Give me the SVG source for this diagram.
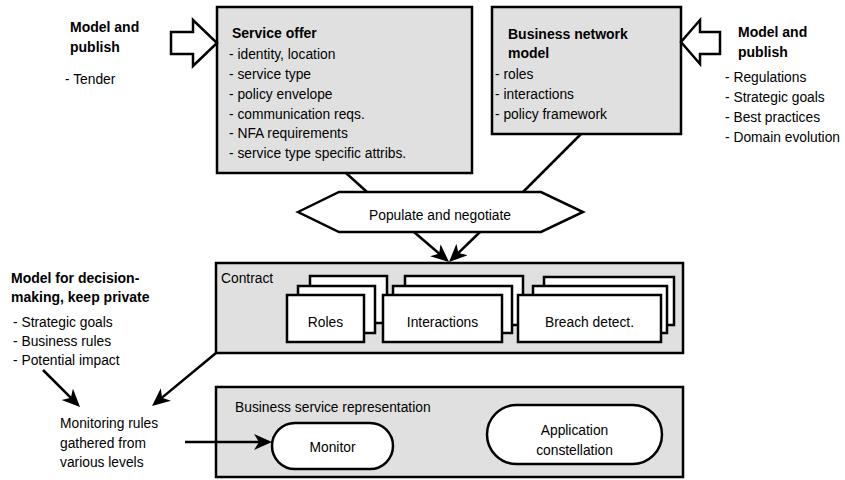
<svg xmlns="http://www.w3.org/2000/svg" width="845" height="480" viewBox="0 0 845 480">
<defs>
<style>
.g{fill:#e0e0e0;stroke:#000;stroke-width:2.5}
.w{fill:#fff;stroke:#000;stroke-width:2.5}
.ln{fill:none;stroke:#000;stroke-width:2.5}
.ar{fill:none;stroke:#000;stroke-width:2.5;marker-end:url(#ah)}
text{font-family:"Liberation Sans",Arial,Helvetica,sans-serif;font-size:13.8px;fill:#000}
.b{font-weight:bold;font-size:14px}
.c{text-anchor:middle}
</style>
<marker id="ah" markerUnits="userSpaceOnUse" markerWidth="20" markerHeight="18" refX="14" refY="8" orient="auto">
<path d="M0,0 L18,8 L0,16 L5,8 z" fill="#000"/>
</marker>
</defs>
<rect width="845" height="480" fill="#fff"/>

<g id="model-publish-left">
<text class="b" x="70" y="32">Model and</text>
<text class="b" x="70" y="52">publish</text>
<text x="65" y="84">- Tender</text>
</g>

<g id="service-offer">
<rect class="g" x="217" y="7" width="255" height="166"/>
<text class="b" x="232" y="38">Service offer</text>
<text x="229" y="59">- identity, location</text>
<text x="229" y="79">- service type</text>
<text x="229" y="99">- policy envelope</text>
<text x="229" y="119">- communication reqs.</text>
<text x="229" y="138">- NFA requirements</text>
<text x="229" y="158">- service type specific attribs.</text>
</g>

<g id="business-network-model">
<rect class="g" x="492" y="7" width="189" height="127"/>
<text class="b" x="508" y="39">Business network</text>
<text class="b" x="508" y="58">model</text>
<text x="495" y="79">- roles</text>
<text x="495" y="99">- interactions</text>
<text x="495" y="119">- policy framework</text>
</g>

<g id="model-publish-right">
<text class="b" x="738" y="37">Model and</text>
<text class="b" x="738" y="57">publish</text>
<text x="725" y="82">- Regulations</text>
<text x="725" y="102">- Strategic goals</text>
<text x="725" y="122">- Best practices</text>
<text x="725" y="142">- Domain evolution</text>
</g>

<g id="populate-negotiate">
<polygon class="w" points="298,212 339,192 541,192 583,212 541,232 339,232"/>
<text class="c" x="440" y="220">Populate and negotiate</text>
</g>

<g id="decision-making">
<text class="b" x="11" y="283">Model for decision-</text>
<text class="b" x="11" y="302">making, keep private</text>
<text x="13" y="327">- Strategic goals</text>
<text x="13" y="346">- Business rules</text>
<text x="13" y="365">- Potential impact</text>
</g>

<g id="contract">
<rect class="g" x="216" y="263" width="467" height="90"/>
<text x="221" y="283">Contract</text>
</g>

<g id="roles">
<rect class="w" x="310" y="276" width="77" height="47"/>
<rect class="w" x="298" y="286" width="77" height="47"/>
<rect class="w" x="287" y="295" width="77" height="47"/>
<text class="c" x="325.5" y="327">Roles</text>
</g>

<g id="interactions">
<rect class="w" x="405" y="276" width="118" height="49"/>
<rect class="w" x="393" y="286" width="119" height="47"/>
<rect class="w" x="383" y="295" width="119" height="47"/>
<text class="c" x="442.5" y="327">Interactions</text>
</g>

<g id="breach-detect">
<rect class="w" x="544" y="277" width="130" height="48"/>
<rect class="w" x="533" y="286" width="134" height="47"/>
<rect class="w" x="518" y="295" width="143" height="47"/>
<text class="c" x="589.5" y="327">Breach detect.</text>
</g>

<g id="monitoring-rules">
<text x="60" y="428">Monitoring rules</text>
<text x="60" y="448">gathered from</text>
<text x="60" y="467">various levels</text>
</g>

<g id="business-service-representation">
<rect class="g" x="216" y="387" width="467" height="90"/>
<text x="235" y="412">Business service representation</text>
</g>

<g id="monitor">
<rect class="w" x="272" y="423" width="121" height="46" rx="23" ry="23"/>
<text class="c" x="332.5" y="452">Monitor</text>
</g>

<g id="application-constellation">
<rect class="w" x="487" y="405" width="175" height="59" rx="29.5" ry="29.5"/>
<text class="c" x="574.5" y="435">Application</text>
<text class="c" x="574.5" y="455">constellation</text>
</g>

<g id="connectors">
<polygon class="w" points="171,32 193,32 193,20 217,43 193,66 193,54 171,54"/>
<polygon class="w" points="720,32 700,32 700,20 681,42 700,64 700,54 720,54"/>
<line class="ln" x1="346" y1="173" x2="367" y2="192"/>
<line class="ln" x1="581" y1="134" x2="523" y2="192"/>
<line class="ar" x1="414" y1="232" x2="446" y2="259.4"/>
<line class="ar" x1="480" y1="232" x2="451.9" y2="259.2"/>
<line class="ar" x1="43" y1="370" x2="77.2" y2="404.2"/>
<line class="ar" x1="216" y1="353" x2="155.1" y2="403.4"/>
<line class="ar" x1="185" y1="442" x2="268" y2="442"/>
</g>
</svg>
